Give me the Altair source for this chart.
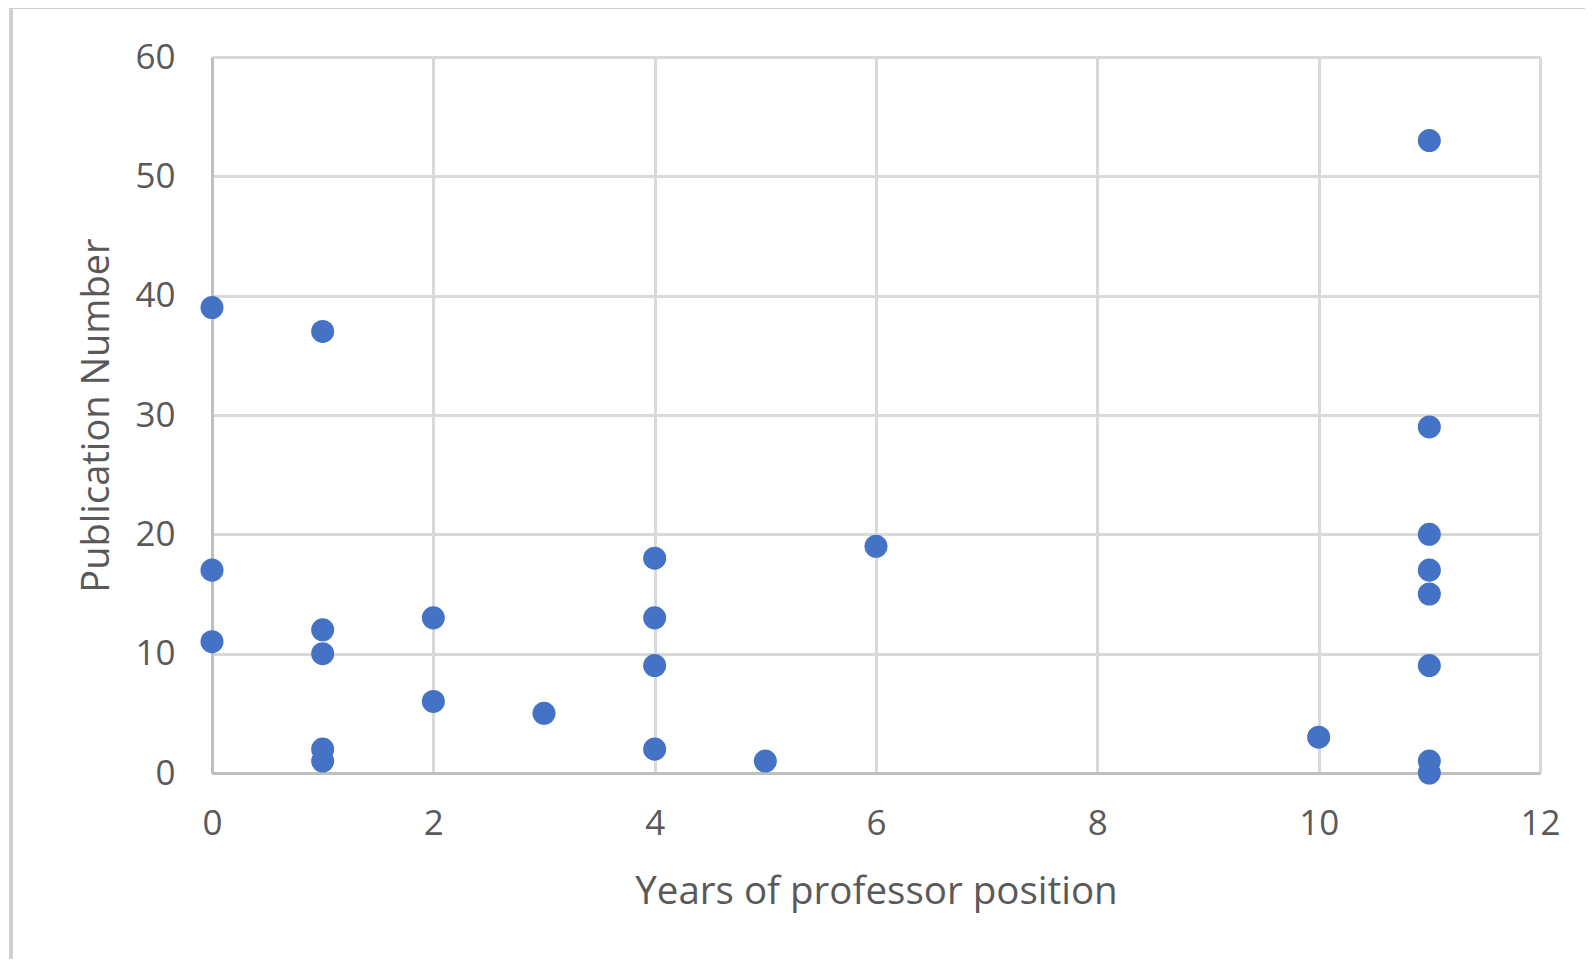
import altair as alt
import pandas as pd

years = [0, 0, 0,
         1, 1, 1, 1, 1,
         2, 2,
         3,
         4, 4, 4, 4,
         5,
         6,
         10,
         11, 11, 11, 11, 11, 11, 11, 11]
pubs = [39, 17, 11,
        37, 12, 10, 2, 1,
        13, 6,
        5,
        18, 13, 9, 2,
        1,
        19,
        3,
        53, 29, 20, 17, 15, 9, 1, 0]

x_ticks = [0, 2, 4, 6, 8, 10, 12]
y_ticks = [0, 10, 20, 30, 40, 50, 60]

df = pd.DataFrame({"years": years, "pubs": pubs})

W, H = 1328, 716
FONT = "Open Sans"
GRAY = "#595959"

points = alt.Chart(df).mark_circle(size=530, opacity=1, color="#4472C4").encode(
    x=alt.X("years:Q",
            scale=alt.Scale(domain=[0, 12], nice=False),
            axis=alt.Axis(values=x_ticks, title="Years of professor position",
                          grid=True, gridColor="#d9d9d9", gridWidth=3,
                          domainColor="#bfbfbf", domainWidth=3,
                          ticks=False, tickSize=0, labelPadding=33,
                          labelFlush=False, labelOverlap=False,
                          labelFont=FONT, labelFontSize=35, labelColor=GRAY,
                          titleFont=FONT, titleFontSize=38.5, titleColor=GRAY,
                          titleFontWeight="normal", titleBaseline="middle",
                          titleX=W / 2, titleY=118)),
    y=alt.Y("pubs:Q",
            scale=alt.Scale(domain=[0, 60], nice=False),
            axis=alt.Axis(values=y_ticks, title="Publication Number",
                          grid=True, gridColor="#d9d9d9", gridWidth=3,
                          domainColor="#bfbfbf", domainWidth=3,
                          ticks=False, tickSize=0, labelPadding=37,
                          labelFlush=False, labelOverlap=False,
                          labelFont=FONT, labelFontSize=35, labelColor=GRAY,
                          titleFont=FONT, titleFontSize=38, titleColor=GRAY,
                          titleFontWeight="normal", titleBaseline="middle",
                          titleAngle=-90, titleX=-115, titleY=H / 2)),
)

border_left = alt.Chart(df).mark_rule(color="#d0d0d0", strokeWidth=4, clip=False).encode(
    x=alt.value(-201), y=alt.value(-52), y2=alt.value(H + 200)
)
border_top = alt.Chart(df).mark_rule(color="#d0d0d0", strokeWidth=4, clip=False).encode(
    x=alt.value(-203), x2=alt.value(W + 100), y=alt.value(-50)
)

chart = alt.layer(border_left, border_top, points).properties(
    width=W, height=H,
    autosize=alt.AutoSizeParams(type="none"),
    padding={"left": 204, "top": 49, "right": 45, "bottom": 186},
).configure_view(stroke="#d9d9d9", strokeWidth=3).configure(background="white")

chart.save("out.html", embed_options={"renderer": "svg", "actions": False})
